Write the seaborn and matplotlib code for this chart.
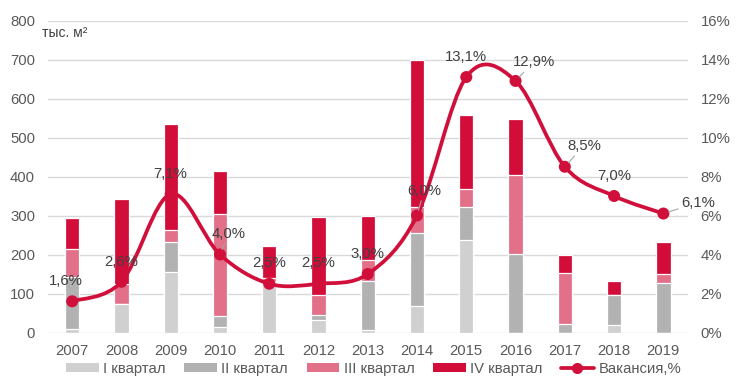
import numpy as np
import pandas as pd
import matplotlib
matplotlib.use("Agg")
import matplotlib.pyplot as plt
from matplotlib.path import Path
from matplotlib.patches import PathPatch, Patch
from matplotlib.lines import Line2D
import seaborn as sns

years = ["2007", "2008", "2009", "2010", "2011", "2012", "2013",
         "2014", "2015", "2016", "2017", "2018", "2019"]
q1 = [10, 72, 154, 15, 130, 32, 6, 68, 238, 0, 0, 18, 0]
q2 = [133, 0, 77, 28, 0, 12, 127, 188, 83, 202, 21, 79, 127]
q3 = [72, 52, 31, 262, 11, 51, 52, 65, 46, 201, 132, 0, 22]
q4 = [79, 218, 272, 109, 80, 201, 115, 378, 191, 144, 46, 35, 83]
vacancy = [1.6, 2.6, 7.1, 4.0, 2.5, 2.5, 3.0, 6.0, 13.1, 12.9, 8.5, 7.0, 6.1]
vac_labels = ["1,6%", "2,6%", "7,1%", "4,0%", "2,5%", "2,5%", "3,0%",
              "6,0%", "13,1%", "12,9%", "8,5%", "7,0%", "6,1%"]
left_ticks = [0, 100, 200, 300, 400, 500, 600, 700, 800]
right_ticks = [0, 2, 4, 6, 8, 10, 12, 14, 16]
series_names = ["I квартал", "II квартал", "III квартал", "IV квартал"]
line_name = "Вакансия,%"
unit_label = "тыс. м²"

colors = ["#d0d0d0", "#b2b2b2", "#e27088", "#d20d3a"]
line_color = "#d0103a"
text_color = "#595959"
label_color = "#404040"

sns.set_theme(style="white")
plt.rcParams["font.family"] = ["Liberation Sans", "DejaVu Sans"]

df = pd.DataFrame({"year": years, "q1": q1, "q2": q2, "q3": q3, "q4": q4})
df["c1"] = df["q1"]
df["c2"] = df["c1"] + df["q2"]
df["c3"] = df["c2"] + df["q3"]
df["c4"] = df["c3"] + df["q4"]

fig = plt.figure(figsize=(7.47, 3.92), dpi=100)
ax = fig.add_axes([47.5 / 747, (392 - 332.5) / 392, (688 - 47.5) / 747, 312 / 392])

for col, c in zip(["c4", "c3", "c2", "c1"], colors[::-1]):
    sns.barplot(data=df, x="year", y=col, color=c, saturation=1, width=0.29,
                edgecolor="white", linewidth=0.9, ax=ax, errorbar=None)

ax.set_ylim(0, 800)
ax.set_xlim(-0.5, len(years) - 0.5)
ax.set_yticks(left_ticks)
ax.set_xlabel("")
ax.set_ylabel("")
ax.yaxis.grid(True, color="#d9d9d9", linewidth=1)
ax.set_axisbelow(True)
for s in ax.spines.values():
    s.set_visible(False)
ax.tick_params(axis="both", length=0, labelsize=10.7, colors=text_color)
ax.tick_params(axis="y", pad=9)
ax.tick_params(axis="x", pad=8)

ax2 = ax.twinx()
ax2.set_ylim(0, 16)
ax2.set_yticks(right_ticks)
ax2.set_yticklabels([f"{t}%" for t in right_ticks])
ax2.tick_params(axis="y", length=0, labelsize=10.7, colors=text_color, pad=9)
for s in ax2.spines.values():
    s.set_visible(False)
ax2.grid(False)

# smoothed line (Bezier path through the data points, Excel-like smoothing)
xs = np.arange(len(vacancy), dtype=float)
ys = np.array(vacancy, dtype=float)
verts = [(xs[0], ys[0])]
codes = [Path.MOVETO]
n = len(xs)
for i in range(n - 1):
    p0 = np.array([xs[max(i - 1, 0)], ys[max(i - 1, 0)]])
    p1 = np.array([xs[i], ys[i]])
    p2 = np.array([xs[i + 1], ys[i + 1]])
    p3 = np.array([xs[min(i + 2, n - 1)], ys[min(i + 2, n - 1)]])
    cp1 = p1 + (p2 - p0) / 6.0
    cp2 = p2 - (p3 - p1) / 6.0
    verts += [tuple(cp1), tuple(cp2), tuple(p2)]
    codes += [Path.CURVE4, Path.CURVE4, Path.CURVE4]
patch = PathPatch(Path(verts, codes), facecolor="none", edgecolor=line_color,
                  linewidth=2.7, capstyle="round", joinstyle="round", zorder=3)
ax2.add_patch(patch)
sns.scatterplot(x=xs, y=ys, color=line_color, s=75, edgecolor="none",
                ax=ax2, zorder=4, legend=False)

offsets = [(-6, 20), (0, 20), (0, 20), (9, 21), (0, 21), (0, 21), (0, 20),
           (7, 25), (0, 20), (18, 19), (19, 21), (0, 20), (35, 11)]
leaders = [False, False, False, True, False, False, False,
           True, False, True, True, False, True]
for i, (lab, off, ld) in enumerate(zip(vac_labels, offsets, leaders)):
    kw = {}
    if ld:
        kw["arrowprops"] = dict(arrowstyle="-", color="#a6a6a6", lw=0.8,
                                shrinkA=0, shrinkB=4)
    ax2.annotate(lab, xy=(xs[i], ys[i]), xytext=off, textcoords="offset pixels",
                 ha="center", va="center", fontsize=10.7, color=label_color,
                 zorder=5, **kw)

fig.text(42 / 747, (392 - 33) / 392, unit_label, fontsize=10, color=label_color,
         ha="left", va="center")

handles = [Patch(facecolor=c, edgecolor="none") for c in colors]
handles.append(Line2D([0], [0], color=line_color, lw=2.7, marker="o",
                      markersize=7))
leg = fig.legend(handles, series_names + [line_name], loc="center",
                 bbox_to_anchor=(373.5 / 747, (392 - 369) / 392), ncol=5,
                 frameon=False, fontsize=10.7, handlelength=2.2,
                 handleheight=0.5, handletextpad=0.3, columnspacing=1.25,
                 labelcolor=text_color)

fig.savefig("out.png", dpi=100)
